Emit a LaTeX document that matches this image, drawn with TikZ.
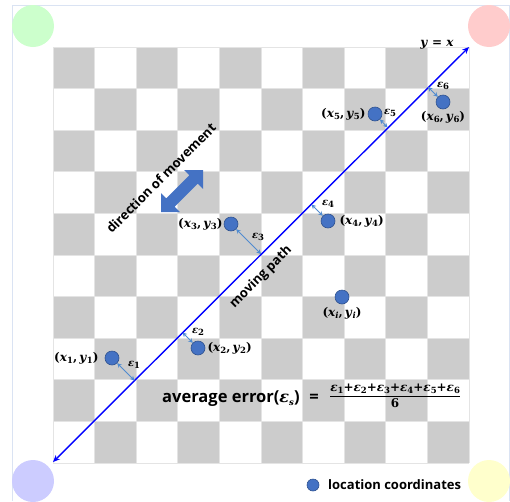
\documentclass[tikz,border=0pt]{standalone}
\usepackage{amsmath}
\usepackage[no-math]{fontspec}
\newfontfamily\labelsans{Open Sans}
\newfontfamily\labelserif{DejaVu Serif}
\usetikzlibrary{arrows.meta,positioning}

\definecolor{cellgray}{HTML}{CCCCCC}
\definecolor{gridcol}{HTML}{E4E4E4}
\definecolor{dotfill}{HTML}{4472C4}
\definecolor{dotline}{HTML}{2F528F}
\definecolor{errblue}{HTML}{4F8BD0}
\definecolor{framecol}{HTML}{DAE3F3}
\definecolor{cgreen}{HTML}{CCFFCC}
\definecolor{cred}{HTML}{FFCCCC}
\definecolor{cblue}{HTML}{CCCCFF}
\definecolor{cyellow}{HTML}{FFFFCC}

% italic variable with a subscript, set in the serif label font
\newcommand\vsub[2]{\textit{#1}\raisebox{-0.3ex}{\fontsize{8.5}{10}\selectfont #2}}
\newcommand\pairlbl[4]{(\vsub{#1}{#2},\,\vsub{#3}{#4})}

\tikzset{
  pt/.style={circle, fill=dotfill, draw=dotline, line width=0.6pt, minimum size=14pt, inner sep=0pt},
  mathlbl/.style={font=\labelserif\bfseries\fontsize{12}{14}\selectfont, inner sep=1pt},
  epslbl/.style={font=\labelserif\bfseries\fontsize{10}{12}\selectfont, inner sep=0.5pt},
  sanslbl/.style={font=\labelsans\bfseries\fontsize{13}{15}\selectfont, inner sep=0pt},
  err/.style={errblue, line width=0.8pt, {Stealth[length=4.5pt,width=4.5pt]}-{Stealth[length=4.5pt,width=4.5pt]}},
  mainpath/.style={blue, line width=1.4pt, {Stealth[length=7pt,width=6pt]}-{Stealth[length=7pt,width=6pt]}},
  gridline/.style={gridcol, line width=0.8pt},
  corner/.style={circle, minimum size=42pt, inner sep=0pt},
}

\begin{document}
\begin{tikzpicture}[x=1pt, y=-1pt]
\useasboundingbox (0,0) rectangle (510,501);

% outer frame
\draw[framecol, line width=0.8pt] (12,501) -- (12,5) -- (509,5) -- (509,501);

% corner discs
\node[corner, fill=cgreen] (cg) at (33,26) {};
\node[corner, fill=cred] (cr) at (489,26) {};
\node[corner, fill=cblue] (cb) at (33,481) {};
\node[corner, fill=cyellow] (cy) at (489,481) {};

% 10 x 10 checkerboard
\foreach \i in {0,...,9}{
  \foreach \j in {0,...,9}{
    \pgfmathtruncatemacro\parity{mod(\i+\j,2)}
    \ifnum\parity=0
      \fill[cellgray] ({53+41.6*\i},{47+41.6*\j}) rectangle ++(41.6,41.6);
    \fi
  }
}
\foreach \k in {0,...,10}{
  \draw[gridline] ({53+41.6*\k},47) -- ({53+41.6*\k},463);
  \draw[gridline] (53,{47+41.6*\k}) -- (469,{47+41.6*\k});
}

% moving path y = x
\coordinate (start) at (53,462);
\coordinate (end) at (469,47);
\draw[mainpath] (start) -- (end);
\node[mathlbl] (yx) at (437,45) {\textit{y} = \textit{x}};

% direction of movement
\begin{scope}[shift={(182,191)}, rotate=45]
  \fill[dotfill] (-29.7,0) -- (-16.3,-13.4) -- (-16.3,-6) -- (16.3,-6) -- (16.3,-13.4)
    -- (29.7,0) -- (16.3,13.4) -- (16.3,6) -- (-16.3,6) -- (-16.3,13.4) -- cycle;
\end{scope}
\node[sanslbl, rotate=45] (dir) at (161,178) {direction of movement};
\node[sanslbl, rotate=45] (mp) at (261,277) {moving path};

% measured locations
\node[pt] (p1) at (112,358) {};
\node[pt] (p2) at (198,348) {};
\node[pt] (p3) at (231,224) {};
\node[pt] (p4) at (328,221) {};
\node[pt] (p5) at (375,114) {};
\node[pt] (p6) at (443,102) {};
\node[pt] (pi) at (342,297) {};

\node[mathlbl, left=5pt of p1] (l1) {\pairlbl{x}{1}{y}{1}};
\node[mathlbl, right=1pt of p2] (l2) {\pairlbl{x}{2}{y}{2}};
\node[mathlbl, left=0pt of p3] (l3) {\pairlbl{x}{3}{y}{3}};
\node[mathlbl, right=3pt of p4] (l4) {\pairlbl{x}{4}{y}{4}};
\node[mathlbl, left=1pt of p5] (l5) {\pairlbl{x}{5}{y}{5}};
\node[mathlbl, below=1pt of p6] (l6) {\pairlbl{x}{6}{y}{6}};
\node[mathlbl, below=2pt of pi] (li) {\pairlbl{x}{\textit{i}}{y}{\textit{i}}};

% perpendicular errors to the path
\coordinate (f1) at (134.5,380.5);
\coordinate (f2) at (182.5,332.5);
\coordinate (f3) at (261,254);
\coordinate (f4) at (311.5,204.5);
\coordinate (f5) at (387.5,127.5);
\coordinate (f6) at (428,87);
\draw[err] (p1) -- (f1);
\draw[err] (p2) -- (f2);
\draw[err] (p3) -- (f3);
\draw[err] (p4) -- (f4);
\draw[err] (p5) -- (f5);
\draw[err] (p6) -- (f6);

\node[epslbl] (e1) at (134,365) {\vsub{ε}{1}};
\node[epslbl] (e2) at (198,332) {\vsub{ε}{2}};
\node[epslbl] (e3) at (258,237) {\vsub{ε}{3}};
\node[epslbl] (e4) at (328,204) {\vsub{ε}{4}};
\node[epslbl] (e5) at (390,113) {\vsub{ε}{5}};
\node[epslbl] (e6) at (443,86) {\vsub{ε}{6}};

% average error formula
\node[font=\labelsans\bfseries\fontsize{16.5}{19}\selectfont, inner sep=0pt, anchor=west]
  (avg) at (162,399) {average error({\labelserif\fontsize{16}{20}\selectfont\vsub{ε}{\textit{s}}})\,\, =};
\node[font=\labelserif\bfseries\fontsize{12}{16}\selectfont, inner sep=0pt, anchor=west] (frac) at (329,396)
  {$\displaystyle\frac{\text{\vsub{ε}{1}+\vsub{ε}{2}+\vsub{ε}{3}+\vsub{ε}{4}+\vsub{ε}{5}+\vsub{ε}{6}}}{\text{6}}$};

% legend
\node[pt, minimum size=12pt] (leg) at (313,485) {};
\node[font=\labelsans\bfseries\fontsize{13}{15}\selectfont, inner sep=0pt, anchor=west]
  (legtxt) at (328,485) {location coordinates};
\end{tikzpicture}
\end{document}
